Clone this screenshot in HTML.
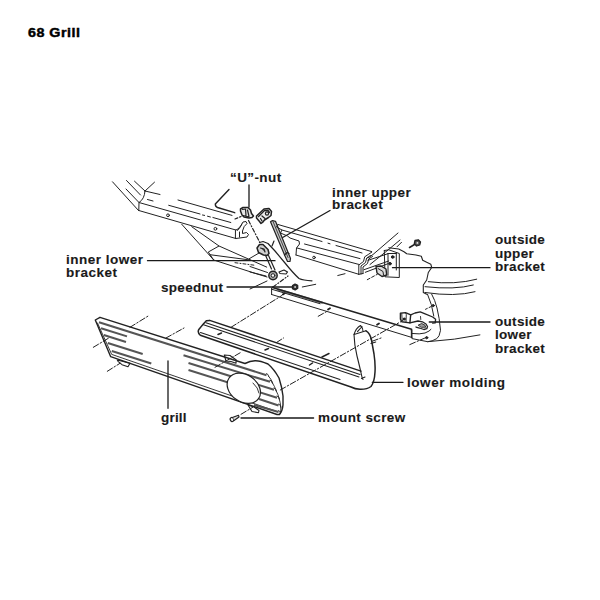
<!DOCTYPE html>
<html><head><meta charset="utf-8"><style>
html,body{margin:0;padding:0;background:#fff;width:600px;height:600px;overflow:hidden}
.t{position:absolute;font-family:"Liberation Sans",sans-serif;font-weight:bold;font-size:13.5px;color:#1a1a1a;-webkit-text-stroke:0.12px #1a1a1a;white-space:nowrap;line-height:13.6px}
svg{position:absolute;left:0;top:0}
</style></head><body>
<div class="t" style="left:27.6px;top:26.4px;font-size:13px;letter-spacing:0.45px;color:#000;-webkit-text-stroke:0.45px #000;transform:scaleX(1.1);transform-origin:0 0">68 Grill</div>
<div class="t" style="left:230px;top:171px;letter-spacing:0.4px">“U”-nut</div>
<div class="t" style="left:332px;top:186.5px;letter-spacing:0.45px;line-height:12.6px">inner upper<br>bracket</div>
<div class="t" style="left:495px;top:233px;letter-spacing:0.3px">outside<br>upper<br>bracket</div>
<div class="t" style="left:66px;top:252.5px;letter-spacing:0.5px;line-height:13.4px">inner lower<br>bracket</div>
<div class="t" style="left:161px;top:280.5px;letter-spacing:0.3px">speednut</div>
<div class="t" style="left:495px;top:314.7px;letter-spacing:0.3px">outside<br>lower<br>bracket</div>
<div class="t" style="left:407px;top:376px;letter-spacing:0.55px">lower molding</div>
<div class="t" style="left:161px;top:410.5px;letter-spacing:0.2px">grill</div>
<div class="t" style="left:318px;top:410.5px;letter-spacing:0.4px">mount screw</div>
<svg width="600" height="600" viewBox="0 0 600 600" fill="none" stroke="#222" stroke-width="1" stroke-linecap="round" stroke-linejoin="round">
<!-- leaders -->
<g stroke="#1a1a1a" stroke-width="1.3">
<path d="M249,185V207"/>
<path d="M330,210.5L280,239"/>
<path d="M147.5,260.7H275"/>
<path d="M227,287H292"/>
<path d="M392.5,267.7H490"/>
<path d="M429.3,322H490"/>
<path d="M372.3,382.3H403"/>
<path d="M168,361V408.3"/>
<path d="M241,418H313.6"/>
</g>
<!-- A frame beam -->
<g>
<path d="M112.5,181.8L138.5,210.5M126.5,180.5L140.5,195M134.5,181.2L145,191M126,189L139,202.5M145,191L154.5,182.2"/>
<path d="M145,191Q144.5,199 139,202.5L138.8,210.5"/>
<path d="M145,191L160,194.5M147.5,199.5L153,201"/>
<path d="M139,202.5L235.8,230M138.8,210.5L235.8,238.5"/>
<path d="M178,200L232,215.4"/>
<path d="M168.7,205.3L200,214M202.5,215L204.6,215.4M207.5,216.2L210.4,217M212.9,217.5L230.8,222.5"/>
<path d="M229,189.5L215.3,204Q215.3,206.7 217.5,207.5L234.7,212.7" stroke-width="1.4"/>
<circle cx="168" cy="215.3" r="1.4"/><circle cx="215.4" cy="228.8" r="1.4"/>
<path d="M235.8,230L238,229Q241,226 243,222L246,221.5L247,223.5Q243.5,226 242.5,231L242.5,233.5L246.5,232.5L248.5,234.5L247,237L235.8,238.5Z"/>
<path d="M237.5,230.5Q240.5,227.5 242,224M239.5,237L239.5,232"/>
</g>
<!-- B inner lower plate -->
<g>
<path d="M181.7,224.2L213.7,260L255,273.3L267,277"/>
<path d="M191.7,226.7L219,246L208.3,252L213.7,260"/>
<path d="M210,254.7L250,260"/>
<path d="M219,246L266.7,267.1M249.2,258.75L259.2,252.9"/>
<path d="M250,266.5L267.5,272.5M250,272L266,276"/>
<path d="M235,262.7L255,265.3" stroke-dasharray="3 2 1 2"/>
<path d="M250,289L267,281"/>
</g>
<!-- B2 inner lower bracket -->
<g stroke-width="1.2">
<path d="M259.5,242.5L263,241.5L268,243.5L275,251L285,263Q293,273 299,278.5Q303,280.5 312,280.8"/>
<path d="M257,248L259.5,244.5L263,244.5L268,249.5L269,253.5L267,255.5L263.5,255L258.5,252.5Z" stroke-width="1.5" fill="#d0d0d0"/>
<path d="M260.5,248L264,249L265,252" fill="#555"/>
<path d="M265.5,255.3L271.5,269M268.5,255.5L275,270"/>
<circle cx="273" cy="275.5" r="4.2" stroke-width="1.4" fill="#aaa"/>
<circle cx="273" cy="275.5" r="1.8" stroke-width="1" fill="#fff"/>
<path d="M279,272L284,270L287.5,272L286,274L280,273.5Z"/>
<path d="M272,246L274,241"/>
<path d="M273,287L288,276" stroke-dasharray="4 2 1 2"/>
</g>
<!-- C U-nut -->
<g stroke-width="1.2">
<path d="M240.5,209L243,207.5L248,207.5L250.5,210L251.5,213.5L253.5,216L252,217.5L249,218L244,217L242,215L240.5,211Z" stroke-width="1.5" fill="#e8e8e8"/>
<path d="M242.5,209.5L245.5,209L246,215.5M247.5,210L249,216.5M243,215.5L249,217"/>
<path d="M235,219L241,216.5" stroke-dasharray="3 2"/>
<path d="M248.5,220.5L259.7,242.3" stroke-dasharray="4 2 1 2"/>
</g>
<!-- D inner upper bracket -->
<g stroke-width="1.2">
<path d="M256.5,216L264,209L269,208.5L271.5,211.5L271,215.5L268.5,217.5L264.5,220L262.5,222.5L261,223.5L259.5,221.5L256.5,218Z" stroke-width="1.5" fill="#ececec"/>
<path d="M258.5,216.5L264.5,210.5L268,210.5L269.5,212.5M262,221L260.5,218.5M262,216L265,218.5" stroke-width="1.3"/>
<circle cx="267" cy="213.5" r="1.6"/>
<path d="M270.5,221.8L272.5,220.5L275.5,221.3L290.5,258.5L290,261.5L287.5,261.5L285,256Z" fill="#c8c8c8"/>
<path d="M273,221.5L288,257.5" stroke-width="0.8"/>
<path d="M284.5,255L287,252.5L289,253.5"/>
</g>
<!-- E second beam -->
<g>
<path d="M278,224.5L371.7,251.6"/>
<path d="M282,230L322,241.5M328,243.2L330,243.8M336,245.5L362,253"/>
<path d="M304.5,244L360,258.6"/>
<path d="M297,248L358.8,264.4M296,255L358.8,274.3"/>
<path d="M278,224.5L276.5,227L282,230L280.5,233L287.5,236L290,238L299,241L299.5,244L296.5,248L296,255"/>
<path d="M358.8,274.3L358.8,265L363.5,261.5L364.7,256.8L368.2,254.5L371.7,252.2"/>
<path d="M361,274L361,266L365.5,262.5L366.7,258L370.5,255.5M363,273.5L363,267L367.5,263.5L368.7,259L372.5,256.5M358.8,274.3L363,273.5"/>
<path d="M337.8,275.5L345,273.7"/>
<circle cx="314" cy="257.5" r="1.3"/>
</g>
<!-- F outside upper bracket -->
<g>
<path d="M398,233L373,254.5L368,258M400,240L388,250L370,264.5M401.5,242.3L397,246.8"/>
<path d="M368,260.3L388,253.7M364,269.7L388.7,261M365.3,272.3L388,263.7"/>
<path d="M384.3,250.5L388.8,249.8L399.3,253.5L399.3,277.5L385,276.8L384.3,250.5"/>
<path d="M388,253.5L388,275.3M396.3,253.5L396.3,270M388,253.5L396.3,253.5"/>
<circle cx="392.7" cy="257" r="1.3" fill="#222"/><circle cx="390" cy="263.7" r="1.3" fill="#222"/>
<path d="M376,266.5L381,266L386,269L386.7,275L382,276.5L377,273Z" stroke-width="1.4" fill="#ddd"/>
<path d="M378,268.5L383,271.5L383.5,275"/>
<path d="M409.5,247.5L414.5,244.5" stroke-width="1.5"/>
<path d="M415,240.5L418.3,239.8L420.5,242L419.7,245L416.5,246L414.3,243.6Z" fill="#555" stroke-width="1.3"/>
<circle cx="417.4" cy="242.9" r="0.9" fill="#eee" stroke="none"/>
<path d="M388.7,247.7L398.7,249L404,251.7L406.7,253.7L416,255L421.3,256.3L422.7,260.3L426.7,262.3L430.8,264.2L431.7,267.5L428.3,272.5L426.7,280L423.3,285L423.3,292.5L426.7,294.2" stroke-width="1.1"/>
<path d="M367.3,279.7L377.3,274.3" stroke-dasharray="3 2"/>
</g>
<!-- G bumper -->
<g>
<path d="M428.3,281.7Q455,285 476.7,279.2M425,286.7Q455,290 473.3,285M425,292.5Q455,297 475,291.7"/>
<path d="M427.5,294.2Q432,304 433.8,316"/>
<path d="M431.7,294.2Q435,300 437,308Q439.5,318 440.5,330.3Q439.5,337 436.8,338.6Q432,341.5 427.7,341.7L412,338.6"/>
<path d="M427.7,341.7Q455,340 479.9,334.9"/>
<path d="M412,333.5Q420,334.5 425,333Q430,331 431,329.4"/>
<circle cx="433.2" cy="305.6" r="1.1" fill="#222"/>
<path d="M425.5,309.3L431,306.6" stroke-dasharray="2 2"/>
<circle cx="426.7" cy="337.7" r="1.1" fill="#222"/>
</g>
<!-- H outside lower bracket -->
<g stroke-width="1.2">
<path d="M400.4,313.3L405.5,312.6L410.7,314.8L409.9,322.9L401.9,321.8L400.4,319.2Z" fill="#fff" stroke-width="1.4"/>
<path d="M401.8,314.2L402.2,320.5M405.5,312.6L406.3,314.5L406,322.3" stroke-width="0.9"/>
<circle cx="404.3" cy="319" r="1" fill="#222"/>
<path d="M410.7,314.8L415,313L420.2,311.9L423.9,313.3L432.7,317L435.6,319.2L435.2,322.9L432.7,323.2" stroke-width="1.3"/>
<path d="M409.9,322.9L418,321L422.4,321.8L426,324L427.5,326.5L426.8,328.7L423.9,329.5L419.5,328L416,327" stroke-width="1.3"/>
<path d="M418.5,325L421.7,323.5L425,325.2L425.8,327.2L421.7,327.3Z" fill="#999" stroke-width="0.9"/>
<path d="M420.5,316.5L420.8,319.5" stroke-width="0.9"/>
<path d="M411.4,330.2L411.4,337.5" stroke-width="1.1"/>
</g>
<!-- I speednut bar -->
<g>
<path d="M278,289.6L322,302.6" stroke="#777" stroke-width="2.2"/>
<path d="M272.5,287.4L411.5,329.2" stroke-width="1.6"/>
<path d="M271.6,289.2L320,303.7M271.6,294.5L412,337.5M271.6,288.3L271.6,294.5M412,330L412,337.5"/>
<path d="M282.8,294.6L284.8,293.2M328,309.6L330,308.2M377,324.8L379,323.4" stroke-width="1.8"/>
<path d="M292.5,285.5L295,284L297.7,285.3L297.8,288.3L295.2,290L292.4,288.6Z" fill="#333" stroke-width="1.2"/>
<circle cx="295.1" cy="287" r="0.9" fill="#ddd" stroke="none"/>
<path d="M302.3,287L315.7,284.3"/>
</g>
<!-- J lower molding -->
<g stroke-width="1.1">
<path d="M209.7,320.4L361,371.1" stroke-width="1.5"/>
<path d="M209.7,320.4L206.3,320.7Q204,323 199,329.3Q197,332 200.3,335.3L351,387Q355,389 360,389.3Q367,389.5 371,386.5Q374.5,382 375,372Q375.5,364 374,354L371.5,340Q370,333 366,330.8" stroke-width="1.5"/>
<path d="M206,322.8L360,374.5M203.5,324.8L359,376.9M200.5,332.5L340,379.5"/>
<path d="M354,334.5L366,330.8M354,334.5Q356,328 360.5,325.5Q363,328 363,331.5M357.5,331.7L362,326.5"/>
<path d="M354,334.5Q354.3,345 357,356Q360,368 361.5,375Q362,378 363,379.5"/>
<path d="M371,343.5L375.7,342M361.5,378.5L365,377"/>
<path d="M218,334.5L221.5,333M265,350L268.5,348.5M309.5,365L312.5,363M322,357L329,353.5" stroke-width="1.5"/>
</g>
<!-- K grill -->
<g stroke-width="1.1">
<path d="M95.3,320L100,317.3L245,363.5Q250,361 255,360.7Q260,360.5 268,364Q274,369 279,378Q282,387 283,396L283,405Q282.5,411 279.5,414.5L277,414.5L110.7,356.7Z" stroke-width="1.4"/>
<path d="M97.5,323L111.5,354" stroke-width="0.9"/>
<path d="M112,354.5L277,411.5" stroke-width="0.9"/>
<g stroke="#555" stroke-width="2" stroke-linecap="butt">
<path d="M99,322.3L266.5,375.2"/>
<path d="M101,328.2L127,336.4M103.8,335L126,342M107.8,343L142.7,354M111.8,351L151.3,363.5"/>
<path d="M183.5,355.2L270,381.8M188.5,363L274,389.8M188.5,370L277,397.8M259,399L278.5,405.5M254,405L278.5,412"/>
</g>
<path d="M266.5,373.5Q268.5,374 268.8,376.5M270,380.2Q272.5,380.5 272.5,383M274,388Q276.5,388.5 276.3,391M277,396Q279.5,396.5 279.3,399M278.5,404Q281,404.5 280.8,407M278.5,410.5Q281,411 280.5,413.5" stroke-width="0.9"/>
<path d="M268.8,376.5Q271,378.5 272.5,383M272.5,383Q274.5,386 276.3,391M276.3,391Q278,394 279.3,399M279.3,399Q280.3,402 280.8,407M280.8,407Q281,410 280.5,413.5" stroke-width="0.9"/>
<ellipse cx="243.8" cy="388.3" rx="18" ry="13.5" transform="rotate(35 243.8 388.3)" stroke-width="1.2" fill="#fff"/>
<path d="M253,383Q258.5,388 259,393" stroke-width="0.9"/>
<path d="M117.3,360L130,363.3L128,366.7L122,364.7L118,361.3Z"/>
<path d="M224.3,355L230,355.5L236.3,360L236,363.3L231,361.5L226,361Z"/>
<path d="M248,405L254,407L259,410.5L258.5,412.7L252,411.5Z"/>
</g>
<!-- L dash-dot alignment lines -->
<g stroke-dasharray="6 2 1.5 2">
<path d="M130,327.3L149.3,315.3"/>
<path d="M166,338L184,328"/>
<path d="M93.3,347.3L110,337.3"/>
<path d="M107.3,371.3L120,363.3"/>
<path d="M231,327.3L281.7,295.6"/>
<path d="M215,367.3L240.3,352.7"/>
<path d="M276.5,342.5L283.5,338"/>
<path d="M280.3,390L402.7,320.6"/>
<path d="M318.2,316.3L328,310.8"/>
<path d="M372.3,341.2L381,338"/>
<path d="M409.8,344.6L427.2,337"/>
<path d="M241,414.3L252.7,407.3"/>
</g>
<!-- M mount screw -->
<g stroke-width="1.2">
<ellipse cx="232" cy="419.5" rx="1.7" ry="2.1" transform="rotate(-30 232 419.5)" fill="#fff"/>
<path d="M233,417.3L238.5,415.3L239,417L234,420.5" fill="#ddd"/>
</g>
</svg>

</body></html>
